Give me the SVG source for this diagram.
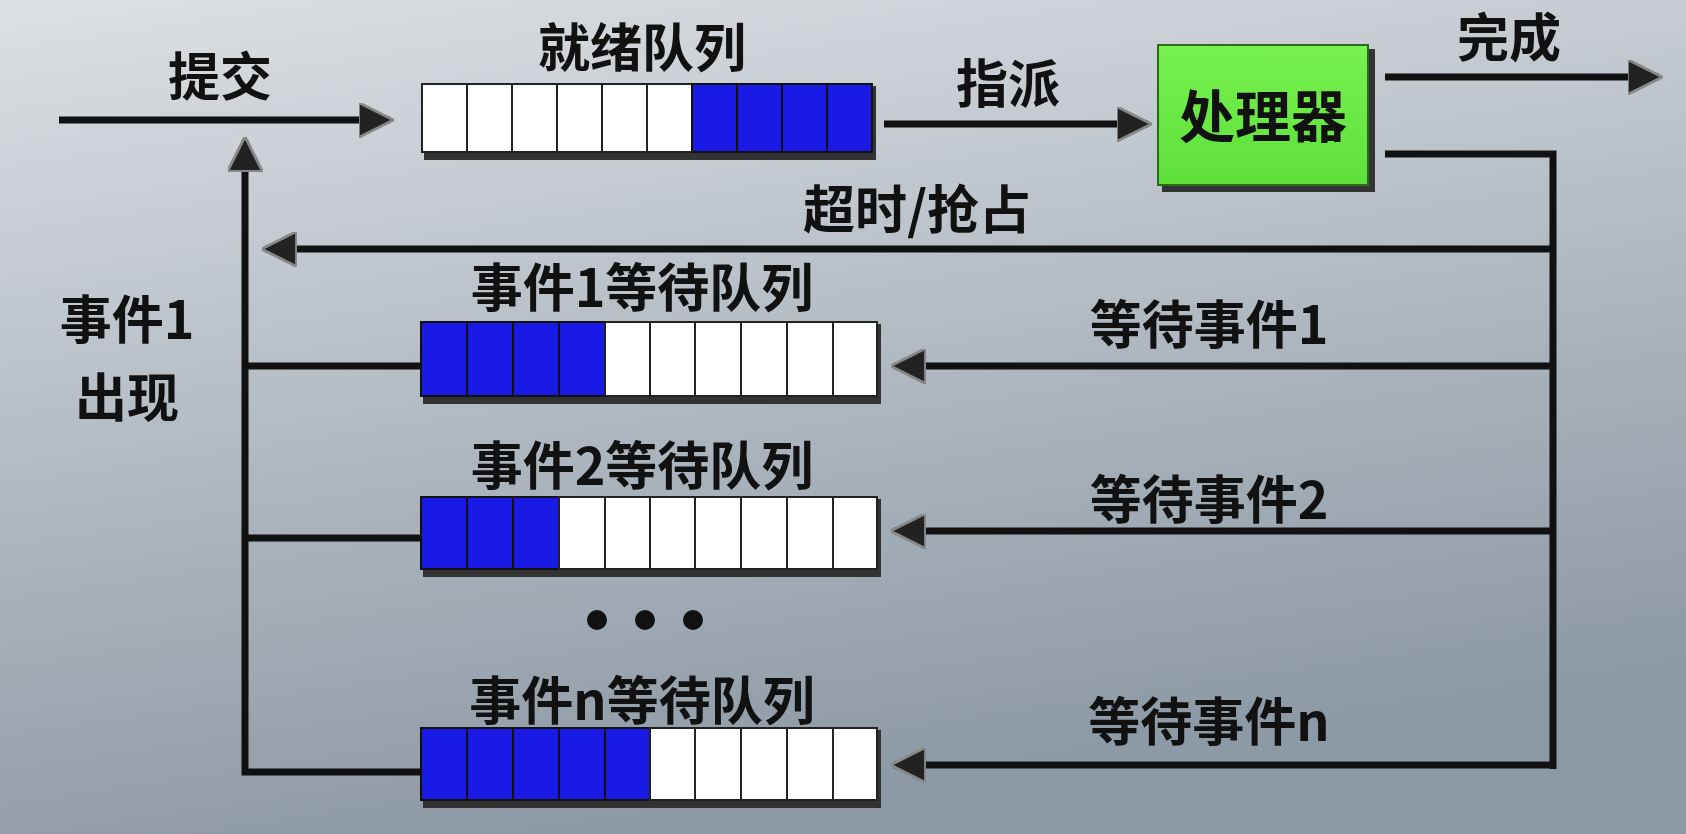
<svg xmlns="http://www.w3.org/2000/svg" width="1686" height="834" viewBox="0 0 1686 834">
<style>
.t{font-family:"Noto Sans CJK SC","Liberation Sans",sans-serif;font-weight:bold;font-size:52px;fill:#111;text-anchor:middle}
.ln{stroke:#111;stroke-width:7;fill:none}
.w{fill:#fff;stroke:#222;stroke-width:2}
.b{fill:#1a1ae6;stroke:#111;stroke-width:2}
.sh{fill:#333}
</style>
<defs>
<linearGradient id="bg" x1="0" y1="0" x2="0.3" y2="1">
<stop offset="0" stop-color="#dde0e4"/><stop offset="0.5" stop-color="#b4bcc4"/><stop offset="1" stop-color="#8d99a4"/>
</linearGradient>
<linearGradient id="gr" x1="0" y1="0" x2="0" y2="1"><stop offset="0" stop-color="#77f24e"/><stop offset="1" stop-color="#5ee03a"/></linearGradient>
<marker id="a" viewBox="0 0 10 10" refX="9" refY="5" markerWidth="5" markerHeight="5" orient="auto" markerUnits="strokeWidth">
<path d="M0,0 L10,5 L0,10 Z" fill="#222" stroke="#888" stroke-width="0.8"/>
</marker>
</defs>
<rect width="1686" height="834" fill="url(#bg)"/>
<g id="connectors">
<line class="ln" x1="59" y1="120" x2="390" y2="120" marker-end="url(#a)"/>
<line class="ln" x1="884" y1="124" x2="1148" y2="124" marker-end="url(#a)"/>
<line class="ln" x1="1385" y1="77" x2="1659" y2="77" marker-end="url(#a)"/>
<polyline class="ln" points="1385,154 1553,154 1553,769"/>
<line class="ln" x1="1553" y1="249" x2="265" y2="249" marker-end="url(#a)"/>
<line class="ln" x1="1553" y1="366" x2="894" y2="366" marker-end="url(#a)"/>
<line class="ln" x1="1553" y1="531" x2="894" y2="531" marker-end="url(#a)"/>
<line class="ln" x1="1553" y1="765" x2="894" y2="765" marker-end="url(#a)"/>
<polyline class="ln" points="421,772 245,772 245,140" marker-end="url(#a)"/>
<line class="ln" x1="245" y1="366" x2="421" y2="366"/>
<line class="ln" x1="245" y1="538" x2="421" y2="538"/>
</g>
<g id="ready">
<text class="t" x="642" y="67">就绪队列</text>
<rect class="sh" x="424" y="86" width="452" height="74"/>
<g transform="translate(422,84)">
<rect class="w" x="0" y="0" width="45" height="68"/><rect class="w" x="45" y="0" width="45" height="68"/><rect class="w" x="90" y="0" width="45" height="68"/><rect class="w" x="135" y="0" width="45" height="68"/><rect class="w" x="180" y="0" width="45" height="68"/><rect class="w" x="225" y="0" width="45" height="68"/>
<rect class="b" x="270" y="0" width="45" height="68"/><rect class="b" x="315" y="0" width="45" height="68"/><rect class="b" x="360" y="0" width="45" height="68"/><rect class="b" x="405" y="0" width="45" height="68"/>
</g>
</g>
<g id="processor">
<rect x="1162" y="49" width="213" height="143" fill="#333"/>
<rect x="1158" y="45" width="210" height="140" fill="url(#gr)" stroke="#2a6a1a" stroke-width="2"/>
<text class="t" x="1263" y="137" style="font-size:56px">处理器</text>
</g>
<g id="queue1">
<text class="t" x="642" y="307">事件1等待队列</text>
<rect class="sh" x="423" y="324" width="458" height="80"/>
<g transform="translate(421,322)">
<rect class="b" x="0" y="0" width="46" height="74"/><rect class="b" x="46" y="0" width="46" height="74"/><rect class="b" x="92" y="0" width="46" height="74"/><rect class="b" x="138" y="0" width="46" height="74"/>
<rect class="w" x="184" y="0" width="45" height="74"/><rect class="w" x="229" y="0" width="45" height="74"/><rect class="w" x="274" y="0" width="46" height="74"/><rect class="w" x="320" y="0" width="46" height="74"/><rect class="w" x="366" y="0" width="46" height="74"/><rect class="w" x="412" y="0" width="44" height="74"/>
</g>
</g>
<g id="queue2">
<text class="t" x="642" y="485">事件2等待队列</text>
<rect class="sh" x="423" y="499" width="458" height="78"/>
<g transform="translate(421,497)">
<rect class="b" x="0" y="0" width="46" height="72"/><rect class="b" x="46" y="0" width="46" height="72"/><rect class="b" x="92" y="0" width="46" height="72"/>
<rect class="w" x="138" y="0" width="46" height="72"/><rect class="w" x="184" y="0" width="45" height="72"/><rect class="w" x="229" y="0" width="45" height="72"/><rect class="w" x="274" y="0" width="46" height="72"/><rect class="w" x="320" y="0" width="46" height="72"/><rect class="w" x="366" y="0" width="46" height="72"/><rect class="w" x="412" y="0" width="44" height="72"/>
</g>
</g>
<g id="dots" fill="#111">
<circle cx="597" cy="620" r="10"/><circle cx="645" cy="620" r="10"/><circle cx="693" cy="620" r="10"/>
</g>
<g id="queuen">
<text class="t" x="642" y="720">事件n等待队列</text>
<rect class="sh" x="423" y="730" width="458" height="78"/>
<g transform="translate(421,728)">
<rect class="b" x="0" y="0" width="46" height="72"/><rect class="b" x="46" y="0" width="46" height="72"/><rect class="b" x="92" y="0" width="46" height="72"/><rect class="b" x="138" y="0" width="46" height="72"/><rect class="b" x="184" y="0" width="45" height="72"/>
<rect class="w" x="229" y="0" width="45" height="72"/><rect class="w" x="274" y="0" width="46" height="72"/><rect class="w" x="320" y="0" width="46" height="72"/><rect class="w" x="366" y="0" width="46" height="72"/><rect class="w" x="412" y="0" width="44" height="72"/>
</g>
</g>
<g id="labels">
<text class="t" x="220" y="96">提交</text>
<text class="t" x="1008" y="103">指派</text>
<text class="t" x="1509" y="57">完成</text>
<text class="t" x="917" y="229">超时/抢占</text>
<text class="t" x="1209" y="344">等待事件1</text>
<text class="t" x="1209" y="519">等待事件2</text>
<text class="t" x="1209" y="741">等待事件n</text>
<text class="t" x="127" y="339">事件1</text>
<text class="t" x="127" y="417">出现</text>
</g>
</svg>
